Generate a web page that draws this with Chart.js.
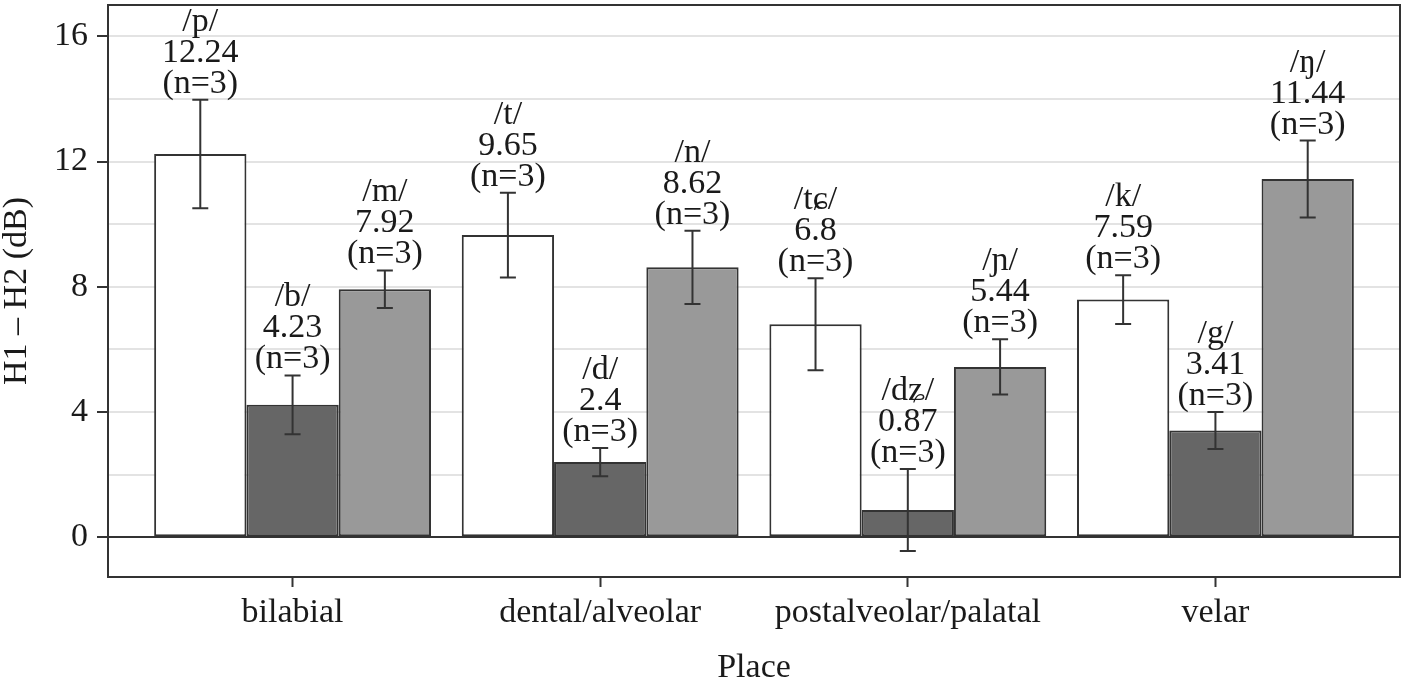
<!DOCTYPE html>
<html>
<head>
<meta charset="utf-8">
<script src="https://cdn.jsdelivr.net/npm/chart.js@4"></script>
<style>
  html, body { margin: 0; padding: 0; background: #fff; }
  #wrap { width: 1410px; height: 680px; }
</style>
</head>
<body>
<div id="wrap"><canvas id="chart" width="1410" height="680"></canvas></div>
<script>
const places = ["bilabial", "dental/alveolar", "postalveolar/palatal", "velar"]

const voicelessLabels = ["/p/", "/t/", "/tɕ/", "/k/"]
const voicelessValues = [12.24, 9.65, 6.8, 7.59]
const voicelessErr = [1.73, 1.35, 1.47, 0.78]

const voicedLabels = ["/b/", "/d/", "/dʑ/", "/g/"]
const voicedValues = [4.23, 2.4, 0.87, 3.41]
const voicedErr = [0.94, 0.45, 1.31, 0.59]

const nasalLabels = ["/m/", "/n/", "/ɲ/", "/ŋ/"]
const nasalValues = [7.92, 8.62, 5.44, 11.44]
const nasalErr = [0.6, 1.17, 0.88, 1.23]

const counts = [3, 3, 3, 3]
const yGrid = [0, 2, 4, 6, 8, 10, 12, 14, 16]
const yTickLabels = [0, 4, 8, 12, 16]

const FONT = "'Liberation Serif', 'DejaVu Serif', serif"
const INK = "#333333"

const series = [
  { labels: voicelessLabels, values: voicelessValues, err: voicelessErr, fill: "#ffffff" },
  { labels: voicedLabels, values: voicedValues, err: voicedErr, fill: "#666666" },
  { labels: nasalLabels, values: nasalValues, err: nasalErr, fill: "#999999" }
]

const annotate = {
  id: "annotate",
  afterDatasetsDraw(chart) {
    const ctx = chart.ctx
    const y = chart.scales.y
    ctx.save()
    series.forEach((s, di) => {
      const meta = chart.getDatasetMeta(di)
      meta.data.forEach((bar, i) => {
        const x = bar.x
        const hi = y.getPixelForValue(s.values[i] + s.err[i])
        const lo = y.getPixelForValue(s.values[i] - s.err[i])
        ctx.strokeStyle = INK
        ctx.lineWidth = 2
        ctx.beginPath()
        ctx.moveTo(x, hi); ctx.lineTo(x, lo)
        ctx.moveTo(x - 8, hi); ctx.lineTo(x + 8, hi)
        ctx.moveTo(x - 8, lo); ctx.lineTo(x + 8, lo)
        ctx.stroke()

        ctx.fillStyle = "#1a1a1a"
        ctx.font = "34px " + FONT
        ctx.textAlign = "center"
        ctx.textBaseline = "alphabetic"
        const lines = [s.labels[i], String(s.values[i]), "(n=" + counts[i] + ")"]
        const base = hi - 7
        lines.forEach((t, k) => ctx.fillText(t, x, base - (2 - k) * 31))
      })
    })
    const a = chart.chartArea
    ctx.strokeStyle = INK
    ctx.lineWidth = 2
    ctx.strokeRect(a.left, a.top, a.right - a.left, a.bottom - a.top)
    ctx.restore()
  }
}

new Chart(document.getElementById("chart"), {
  type: "bar",
  data: {
    datasets: series.map(s => ({
      data: s.values.map((v, i) => ({ x: i, y: v })),
      backgroundColor: s.fill,
      borderColor: INK,
      borderWidth: 2,
      borderSkipped: false
    }))
  },
  options: {
    responsive: false,
    animation: false,
    layout: { padding: { left: 0, top: 5, right: 10, bottom: 0 } },
    datasets: { bar: { categoryPercentage: 0.9, barPercentage: 1.0 } },
    plugins: { legend: { display: false }, tooltip: { enabled: false } },
    scales: {
      x: {
        type: "linear",
        min: -0.6,
        max: 3.6,
        offset: false,
        afterBuildTicks(scale) { scale.ticks = places.map((_, i) => ({ value: i })) },
        afterFit(scale) {
          scale.height = 103
          scale.paddingLeft = 0
          scale.paddingRight = 0
        },
        border: { display: false },
        grid: { offset: false, drawOnChartArea: false, drawTicks: true, tickLength: 10, tickColor: INK, tickWidth: 2 },
        ticks: {
          autoSkip: false,
          maxRotation: 0,
          padding: 6,
          color: "#1a1a1a",
          font: { family: FONT, size: 34 },
          callback: v => places[v]
        },
        title: {
          display: true,
          text: "Place",
          color: "#1a1a1a",
          font: { family: FONT, size: 34, lineHeight: 0.7 },
          padding: { top: 0, bottom: 0 }
        }
      },
      y: {
        min: -1.27,
        max: 17.0,
        afterBuildTicks(scale) { scale.ticks = yGrid.map(v => ({ value: v })) },
        afterFit(scale) {
          scale.width = 108
          scale.paddingTop = 0
          scale.paddingBottom = 0
        },
        border: { display: false },
        grid: {
          color: c => c.tick && c.tick.value === 0 ? INK : "#e3e3e3",
          lineWidth: 2,
          tickLength: 11,
          tickColor: c => c.tick && yTickLabels.includes(c.tick.value) ? INK : "rgba(0,0,0,0)",
          tickWidth: 2
        },
        ticks: {
          padding: 9,
          color: "#1a1a1a",
          font: { family: FONT, size: 34 },
          callback: v => yTickLabels.includes(v) ? String(v) : ""
        },
        title: {
          display: true,
          text: "H1 – H2 (dB)",
          color: "#1a1a1a",
          font: { family: FONT, size: 34, lineHeight: 1.0 },
          padding: { top: 0, bottom: 0 }
        }
      }
    }
  },
  plugins: [annotate]
})
</script>
</body>
</html>
